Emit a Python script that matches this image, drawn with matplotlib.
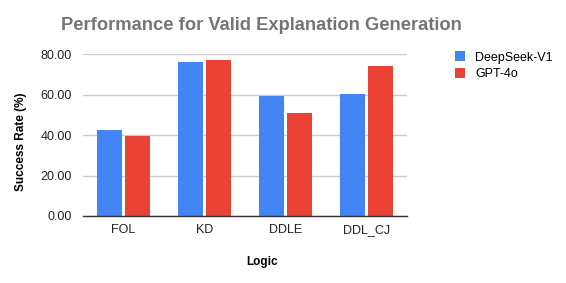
import matplotlib
matplotlib.use("Agg")
import matplotlib.pyplot as plt
import numpy as np

plt.rcParams['font.family'] = ['Liberation Sans', 'DejaVu Sans']

categories = ["FOL", "KD", "DDLE", "DDL_CJ"]
series_names = ["DeepSeek-V1", "GPT-4o"]
deepseek = [42.4, 76.4, 59.6, 60.6]
gpt4o = [39.4, 77.4, 51.2, 74.4]
yticks = [0, 20, 40, 60, 80]
colors = ["#4285F4", "#EA4335"]

W, H = 566, 283
fig = plt.figure(figsize=(W/100, H/100), dpi=100)
ax = fig.add_axes([83/W, 1-216/H, (407-83)/W, (216-54.3)/H])

x = np.arange(len(categories))
bw = 0.31
gap = 0.015
ax.bar(x - bw/2 - gap, deepseek, bw, color=colors[0], label=series_names[0], zorder=3)
ax.bar(x + bw/2 + gap, gpt4o, bw, color=colors[1], label=series_names[1], zorder=3)

ax.set_xlim(-0.5, len(categories)-0.5)
ax.set_ylim(0, 80)
ax.set_yticks(yticks)
ax.set_yticklabels([f"{v:.2f}" for v in yticks])
ax.set_xticks(x)
ax.set_xticklabels(categories)
ax.tick_params(axis='both', length=0, labelsize=9, colors='#222222')
ax.tick_params(axis='y', pad=8)
ax.tick_params(axis='x', pad=6)
for s in ['top', 'right', 'left']:
    ax.spines[s].set_visible(False)
ax.spines['bottom'].set_color('#333333')
ax.spines['bottom'].set_linewidth(1)
ax.spines['bottom'].set_zorder(4)
ax.yaxis.grid(True, color='#cccccc', linewidth=1, zorder=0)
ax.set_axisbelow(True)

fig.text(261/W, 1-26/H, "Performance for Valid Explanation Generation", ha='center', va='center',
         fontsize=13.2, fontweight='bold', color='#757575')
fig.text(21/W, 1-142/H, "Success Rate (%)", rotation=90, ha='center', va='center',
         fontsize=8.5, fontweight='bold', color='#000000')
fig.text(262/W, 1-262/H, "Logic", ha='center', va='center',
         fontsize=8.5, fontweight='bold', color='#000000')

ax.legend(loc='upper left', bbox_to_anchor=(450/W, 1-46/H), bbox_transform=fig.transFigure,
          frameon=False, fontsize=9, handlelength=0.8, handleheight=0.9, handletextpad=0.8,
          labelspacing=0.35, borderaxespad=0)

fig.savefig("out.png", dpi=100)
